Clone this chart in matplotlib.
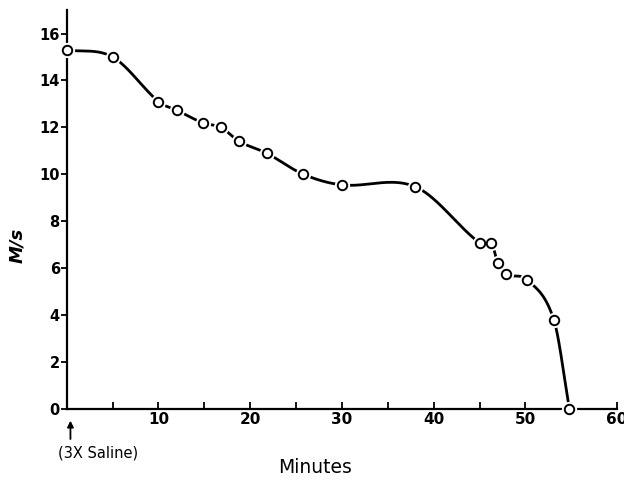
import numpy as np
import matplotlib
matplotlib.use("Agg")
import matplotlib.pyplot as plt

# ---------------------------------------------------------
# data
# ---------------------------------------------------------
minutes = [0, 5, 10, 12, 14.8, 16.8, 18.8, 21.8, 25.8, 30, 38, 45, 46.3, 47, 47.9, 50.2, 53.1, 54.8]
speed = [15.3, 15.0, 13.1, 12.73, 12.2, 12.0, 11.4, 10.9, 10.0, 9.55, 9.47, 7.08, 7.08, 6.2, 5.74, 5.5, 3.8, 0.0]

x_ticks_major = [10, 20, 30, 40, 50, 60]
x_ticks_minor = [5, 15, 25, 35, 45, 55]
y_ticks = [0, 2, 4, 6, 8, 10, 12, 14, 16]


def smooth_curve(x, y, n=40):
    # cubic hermite through the points, tangents from neighbours
    x = np.asarray(x, float)
    y = np.asarray(y, float)
    m = np.zeros_like(y)
    m[0] = (y[1] - y[0]) / (x[1] - x[0])
    m[-1] = (y[-1] - y[-2]) / (x[-1] - x[-2])
    m[1:-1] = (y[2:] - y[:-2]) / (x[2:] - x[:-2])
    xs, ys = [], []
    for i in range(len(x) - 1):
        h = x[i + 1] - x[i]
        t = np.linspace(0, 1, n)
        h00 = 2 * t**3 - 3 * t**2 + 1
        h10 = t**3 - 2 * t**2 + t
        h01 = -2 * t**3 + 3 * t**2
        h11 = t**3 - t**2
        xs.append(x[i] + t * h)
        ys.append(h00 * y[i] + h10 * h * m[i] + h01 * y[i + 1] + h11 * h * m[i + 1])
    return np.concatenate(xs), np.concatenate(ys)


cx, cy = smooth_curve(minutes, speed)

fig = plt.figure(figsize=(6.24, 4.8), dpi=100)
ax = fig.add_axes([0.107, 0.148, 0.882, 0.831])

ax.plot(cx, cy, color="black", lw=2.0, solid_capstyle="round", zorder=2)
# white halo so the line stops short of each circle
ax.plot(minutes, speed, "o", ms=10, color="white", mec="white", zorder=3, clip_on=False)
ax.plot(minutes, speed, "o", ms=6.8, mfc="white", mec="black", mew=1.4, zorder=4, clip_on=False)

ax.set_xlim(0, 60)
ax.set_ylim(0, 17)

for side in ["top", "right"]:
    ax.spines[side].set_visible(False)
for side in ["left", "bottom"]:
    ax.spines[side].set_linewidth(1.6)

ax.set_xticks(x_ticks_major)
ax.set_xticks(x_ticks_minor, minor=True)
ax.set_yticks(y_ticks)
ax.tick_params(axis="x", which="both", direction="in", length=5, width=1.3, pad=2,
               labelsize=11)
ax.tick_params(axis="y", direction="out", length=4, width=1.3, pad=1, labelsize=10.5)
for lab in ax.get_xticklabels() + ax.get_yticklabels():
    lab.set_fontweight("bold")

ax.set_xlabel("Minutes", fontsize=13.5)
ax.xaxis.set_label_coords(0.452, -0.148)
ax.xaxis.label.set_va("center")
ax.set_ylabel("M/s", fontsize=13, fontweight="bold", style="italic")
ax.yaxis.set_label_coords(-0.073, 0.41)

ax.annotate("", xy=(0.4, -0.38), xytext=(0.4, -1.4),
            arrowprops=dict(arrowstyle="-|>", color="black", lw=1.3, mutation_scale=9),
            annotation_clip=False)
ax.text(-1.0, -1.88, "(3X Saline)", fontsize=10.5, ha="left", va="center")

fig.savefig("out.png", dpi=100)
print("saved out.png")
